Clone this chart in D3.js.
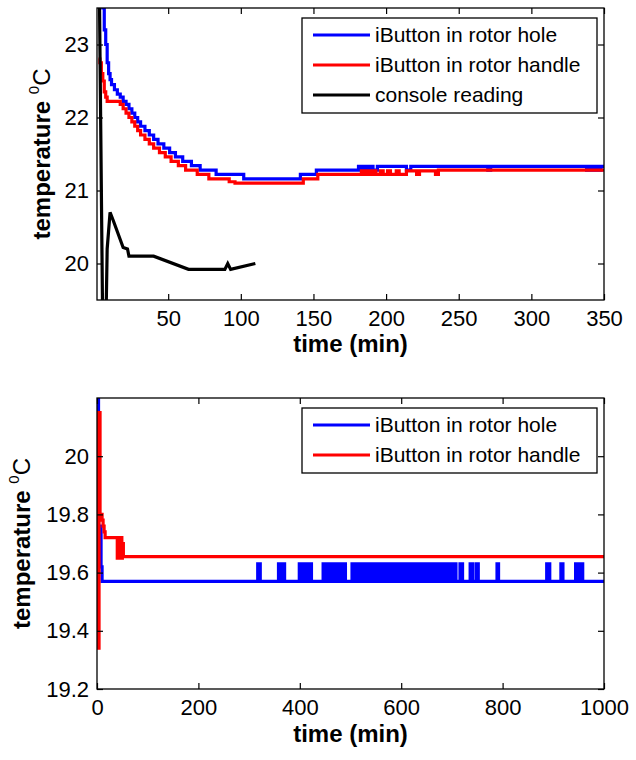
<!DOCTYPE html>
<html>
<head>
<meta charset="utf-8">
<script src="https://cdn.jsdelivr.net/npm/d3@7/dist/d3.min.js"></script>
<style>
  html, body { margin: 0; padding: 0; background: #fff; }
  svg { display: block; }
  text { font-family: "Liberation Sans", Arial, sans-serif; fill: #000; }
</style>
</head>
<body>
<svg id="chart" width="636" height="760"></svg>
<script>
// ---------------- DATA ----------------
// Top panel: time (min) vs temperature (°C)
const topXTicks = [50, 100, 150, 200, 250, 300, 350];
const topYTicks = [20, 21, 22, 23];

const topHole = [
  [2, 24.0], [5, 23.5], [6, 23.2], [7, 23.0], [8, 22.75], [9, 22.6], [10, 22.52], [11, 22.45],
  [13, 22.38], [15, 22.32], [17, 22.28], [19, 22.22], [21, 22.18], [23, 22.12], [25, 22.06],
  [27, 22.0], [29, 21.94], [31, 21.88], [34, 21.82], [37, 21.76], [40, 21.7], [43, 21.64],
  [47, 21.58], [51, 21.52], [55, 21.46], [60, 21.4], [66, 21.34], [72, 21.28], [83, 21.22],
  [102, 21.16], [141, 21.22], [152, 21.28], [181, 21.33], [183, 21.28], [185, 21.33],
  [187, 21.28], [189, 21.33], [191, 21.28], [194, 21.33], [214, 21.28], [217, 21.33],
  [270, 21.28], [272, 21.33], [338, 21.28], [340, 21.33], [342, 21.28], [344, 21.33],
  [346, 21.28], [348, 21.33], [350, 21.33]
];

const topHandle = [
  [2, 22.8], [3, 22.75], [4, 22.6], [5, 22.5], [6, 22.35], [7, 22.28], [8, 22.22],
  [17, 22.18], [19, 22.12], [21, 22.06], [23, 22.0], [25, 21.94], [27, 21.88], [29, 21.82],
  [31, 21.76], [34, 21.7], [37, 21.64], [40, 21.58], [44, 21.52], [48, 21.46], [52, 21.4],
  [57, 21.34], [62, 21.28], [70, 21.22], [78, 21.16], [92, 21.12], [96, 21.1],
  [143, 21.16], [153, 21.22], [183, 21.27], [185, 21.22], [187, 21.27], [189, 21.22],
  [191, 21.27], [193, 21.22], [196, 21.27], [198, 21.22], [201, 21.27], [203, 21.22],
  [207, 21.27], [209, 21.22], [214, 21.27], [221, 21.22], [223, 21.27], [234, 21.22],
  [236, 21.28], [350, 21.28]
];

const topConsole = [
  [2, 25.0], [5, 19.0], [7, 19.0], [8, 20.2], [10, 20.7], [12, 20.6], [19, 20.22],
  [22, 20.2], [23, 20.1], [40, 20.1], [64, 19.92], [89, 19.92], [91, 20.0], [93, 19.92],
  [110, 20.0]
];

// Bottom panel
const botXTicks = [0, 200, 400, 600, 800, 1000];
const botYTicks = [19.2, 19.4, 19.6, 19.8, 20];

const botHole = [
  [0, 20.25], [3, 19.72], [5, 19.76], [8, 19.62], [10, 19.57],
  [317, 19.63], [322, 19.57], [358, 19.63], [361, 19.57], [363, 19.63], [366, 19.57], [367, 19.63], [370, 19.57],
  [399, 19.63], [402, 19.57], [404, 19.63], [408, 19.57], [413, 19.63], [416, 19.57], [418, 19.63], [423, 19.57],
  [446, 19.63], [449, 19.57], [451, 19.63], [454, 19.57], [456, 19.63], [458, 19.57], [461, 19.63],
  [464, 19.57], [466, 19.63], [469, 19.57], [471, 19.63], [474, 19.57], [477, 19.63], [479, 19.57],
  [481, 19.63], [484, 19.57], [486, 19.63], [490, 19.57],
  [503, 19.63], [507, 19.57], [510, 19.63], [513, 19.57], [515, 19.63], [518, 19.57], [520, 19.63],
  [524, 19.57], [526, 19.63], [528, 19.57], [530, 19.63], [533, 19.57], [536, 19.63], [538, 19.57],
  [540, 19.63], [543, 19.57], [545, 19.63], [549, 19.57], [551, 19.63], [553, 19.57], [555, 19.63],
  [558, 19.57], [561, 19.63], [563, 19.57], [565, 19.63], [569, 19.57], [571, 19.63], [573, 19.57],
  [575, 19.63], [578, 19.57], [580, 19.63], [584, 19.57], [586, 19.63], [588, 19.57], [590, 19.63],
  [593, 19.57], [596, 19.63], [598, 19.57], [600, 19.63], [603, 19.57], [605, 19.63], [609, 19.57],
  [611, 19.63], [613, 19.57], [615, 19.63], [618, 19.57], [620, 19.63], [623, 19.57], [626, 19.63],
  [628, 19.57], [630, 19.63], [634, 19.57], [636, 19.63], [639, 19.57],
  [642, 19.63], [646, 19.57], [649, 19.63], [653, 19.57], [656, 19.63], [660, 19.57], [663, 19.63],
  [667, 19.57], [670, 19.63], [674, 19.57], [677, 19.63], [681, 19.57], [684, 19.63], [689, 19.57],
  [692, 19.63], [697, 19.57], [703, 19.63], [708, 19.57], [716, 19.63], [721, 19.57],
  [736, 19.63], [741, 19.57], [748, 19.63], [752, 19.57],
  [789, 19.63], [792, 19.57], [887, 19.63], [893, 19.57], [915, 19.63], [919, 19.57],
  [944, 19.63], [948, 19.57], [951, 19.63], [954, 19.57], [955, 19.63], [958, 19.57], [1000, 19.57]
];

const botHandle = [
  [0, 20.15], [2, 19.34], [4, 20.15], [6, 19.8], [10, 19.78], [12, 19.76], [14, 19.74],
  [16, 19.72], [40, 19.65], [41, 19.72], [43, 19.65], [44, 19.72], [46, 19.65],
  [47, 19.72], [49, 19.65], [50, 19.7], [52, 19.655], [1000, 19.655]
];

const topLegend = ["iButton in rotor hole", "iButton in rotor handle", "console reading"];
const botLegend = ["iButton in rotor hole", "iButton in rotor handle"];
const colors = ["#0000ff", "#ff0000", "#000000"];

// ---------------- DRAW ----------------
const svg = d3.select("#chart");

function panel(cfg) {
  const g = svg.append("g");
  const x = d3.scaleLinear().domain(cfg.xDomain).range([cfg.left, cfg.right]);
  const y = d3.scaleLinear().domain(cfg.yDomain).range([cfg.bottom, cfg.top]);

  const clipId = "clip" + cfg.id;
  svg.append("clipPath").attr("id", clipId).append("rect")
    .attr("x", cfg.left).attr("y", cfg.top)
    .attr("width", cfg.right - cfg.left).attr("height", cfg.bottom - cfg.top);

  const lines = g.append("g").attr("clip-path", `url(#${clipId})`);
  cfg.series.forEach(s => {
    const line = d3.line().x(d => x(d[0])).y(d => y(d[1]))
      .curve(s.step ? d3.curveStepAfter : d3.curveLinear);
    lines.append("path").datum(s.data)
      .attr("fill", "none").attr("stroke", s.color)
      .attr("stroke-width", 3.2).attr("stroke-linejoin", "miter")
      .attr("d", line);
  });

  // axes
  const fmt = d => String(d);
  const axB = g.append("g").attr("transform", `translate(0,${cfg.bottom})`)
    .call(d3.axisBottom(x).tickValues(cfg.xTicks).tickSize(-6).tickSizeOuter(0).tickPadding(10).tickFormat(fmt));
  const axT = g.append("g").attr("transform", `translate(0,${cfg.top})`)
    .call(d3.axisTop(x).tickValues(cfg.xTicks).tickSize(-6).tickSizeOuter(0).tickFormat(""));
  const axL = g.append("g").attr("transform", `translate(${cfg.left},0)`)
    .call(d3.axisLeft(y).tickValues(cfg.yTicks).tickSize(-6).tickSizeOuter(0).tickPadding(8).tickFormat(fmt));
  const axR = g.append("g").attr("transform", `translate(${cfg.right},0)`)
    .call(d3.axisRight(y).tickValues(cfg.yTicks).tickSize(-6).tickSizeOuter(0).tickFormat(""));
  [axB, axT, axL, axR].forEach(a => {
    a.select(".domain").remove();
    a.selectAll("line").attr("stroke", "#000").attr("stroke-width", 1.2);
    a.selectAll("text").attr("font-size", 22).attr("font-family", "Liberation Sans, Arial, sans-serif").attr("fill", "#111");
  });
  axB.selectAll("text").attr("dy", "0.71em");

  // frame
  g.append("rect").attr("x", cfg.left).attr("y", cfg.top)
    .attr("width", cfg.right - cfg.left).attr("height", cfg.bottom - cfg.top)
    .attr("fill", "none").attr("stroke", "#000").attr("stroke-width", 1.3);

  // axis labels
  g.append("text").attr("x", (cfg.left + cfg.right) / 2).attr("y", cfg.xLabelY)
    .attr("text-anchor", "middle").attr("font-size", 24).attr("font-weight", "bold")
    .text("time (min)");
  const yl = g.append("text")
    .attr("transform", `translate(${cfg.yLabelX},${(cfg.top + cfg.bottom) / 2}) rotate(-90)`)
    .attr("text-anchor", "middle").attr("font-size", 24).attr("font-weight", "bold");
  yl.append("tspan").text("temperature ");
  yl.append("tspan").attr("font-size", 15).attr("font-weight", "normal").attr("dy", -11).text("0");
  yl.append("tspan").attr("dy", 11).attr("font-weight", "normal").text("C");

  // legend
  const lg = g.append("g");
  lg.append("rect").attr("x", cfg.legend.x0).attr("y", cfg.legend.y0)
    .attr("width", cfg.legend.x1 - cfg.legend.x0).attr("height", cfg.legend.y1 - cfg.legend.y0)
    .attr("fill", "#fff").attr("stroke", "#000").attr("stroke-width", 1.3);
  cfg.legend.labels.forEach((lab, i) => {
    const yy = cfg.legend.firstY + i * cfg.legend.step;
    lg.append("line").attr("x1", cfg.legend.x0 + 11).attr("x2", cfg.legend.x0 + 68)
      .attr("y1", yy).attr("y2", yy).attr("stroke", colors[i]).attr("stroke-width", 3);
    lg.append("text").attr("x", cfg.legend.x0 + 73).attr("y", yy).attr("dy", "0.35em")
      .attr("font-size", 21).attr("fill", "#111").text(lab);
  });
}

panel({
  id: "top", left: 97, right: 604, top: 8, bottom: 300,
  xDomain: [1, 350], yDomain: [19.5, 23.5],
  xTicks: topXTicks, yTicks: topYTicks,
  xLabelY: 352, yLabelX: 50,
  series: [
    { data: topHole, color: colors[0], step: true },
    { data: topHandle, color: colors[1], step: true },
    { data: topConsole, color: colors[2], step: false }
  ],
  legend: { x0: 302, x1: 597, y0: 18, y1: 113, firstY: 35, step: 30, labels: topLegend }
});

panel({
  id: "bot", left: 97, right: 604, top: 398, bottom: 689,
  xDomain: [0, 1000], yDomain: [19.2, 20.2],
  xTicks: botXTicks, yTicks: botYTicks,
  xLabelY: 742, yLabelX: 30,
  series: [
    { data: botHole, color: colors[0], step: true },
    { data: botHandle, color: colors[1], step: true }
  ],
  legend: { x0: 302, x1: 597, y0: 408, y1: 473, firstY: 425, step: 30, labels: botLegend }
});
</script>
</body>
</html>
